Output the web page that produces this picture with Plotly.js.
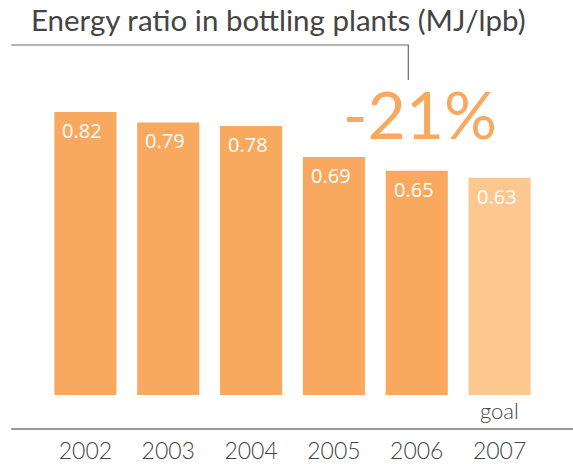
<!DOCTYPE html>
<html>
<head>
<meta charset="utf-8">
<script src="https://cdn.plot.ly/plotly-3.0.1.min.js"></script>
<style>
  html, body { margin: 0; padding: 0; background: #fff; }
  #chart { width: 573px; height: 464px; }
</style>
</head>
<body>
<div id="chart"></div>
<script>
var years = ['2002', '2003', '2004', '2005', '2006', '2007'];
var ratio = [0.82, 0.79, 0.78, 0.69, 0.65, 0.63];
var labels = ['0.82', '0.79', '0.78', '0.69', '0.65', '0.63'];
var isGoal = [false, false, false, false, false, true];
var goalText = 'goal';
var changeText = '-21%';

var orange = '#F9A860', goalOrange = '#FDC790', grey = '#444444';

var colors = isGoal.map(function (g) { return g ? goalOrange : orange; });

var data = [{
  type: 'bar',
  x: years,
  y: ratio,
  marker: {color: colors},
  hoverinfo: 'none'
}];

// value labels sit inside the bar, near the top left corner
var annotations = years.map(function (yr, i) {
  return {
    x: i, y: ratio[i], xref: 'x', yref: 'y',
    text: labels[i], showarrow: false,
    xanchor: 'left', yanchor: 'top', xshift: -25, yshift: -3,
    font: {family: 'Open Sans', size: 20, color: '#ffffff'}
  };
});

annotations.push({
  x: isGoal.indexOf(true), y: 0, xref: 'x', yref: 'y',
  text: goalText, showarrow: false,
  yanchor: 'top', yshift: 0,
  font: {family: 'Lato', size: 22, weight: 300, color: grey}
});

annotations.push({
  x: 0.7575, y: 0.815, xref: 'paper', yref: 'paper',
  text: changeText, showarrow: false,
  xanchor: 'center', yanchor: 'middle',
  font: {family: 'Lato', size: 66, color: orange}
});

var layout = {
  width: 573,
  height: 464,
  margin: {l: 44, r: 32, t: 50, b: 69},
  paper_bgcolor: '#ffffff',
  plot_bgcolor: '#ffffff',
  showlegend: false,
  bargap: 0.25,
  title: {
    text: 'Energy ratio in bottling plants (MJ/lpb)',
    xref: 'container', yref: 'container',
    x: 0.054, xanchor: 'left',
    y: 0.978, yanchor: 'top',
    font: {family: 'Lato', size: 29.5, color: grey}
  },
  xaxis: {
    type: 'category',
    range: [-0.5, 5.5],
    showline: false, showgrid: false, zeroline: false,
    ticks: '',
    ticklabelstandoff: 40,
    tickfont: {family: 'Lato', size: 23, weight: 300, color: grey}
  },
  yaxis: {
    range: [0, 1],
    showline: false, showgrid: false, zeroline: false,
    showticklabels: false, ticks: '',
    fixedrange: true
  },
  shapes: [
    // baseline rule under the bars
    {type: 'line', xref: 'paper', yref: 'paper',
     x0: -0.066, x1: 1.07, y0: -0.0985, y1: -0.0985,
     line: {color: '#777777', width: 1.5}},
    // bracket from the title down to the change figure
    {type: 'path', xref: 'paper', yref: 'paper',
     path: 'M -0.066,1.0145 L 0.733,1.0145 L 0.733,0.913',
     line: {color: '#666666', width: 1.2}}
  ],
  annotations: annotations
};

Plotly.newPlot('chart', data, layout, {displayModeBar: false, staticPlot: true});
</script>
</body>
</html>
